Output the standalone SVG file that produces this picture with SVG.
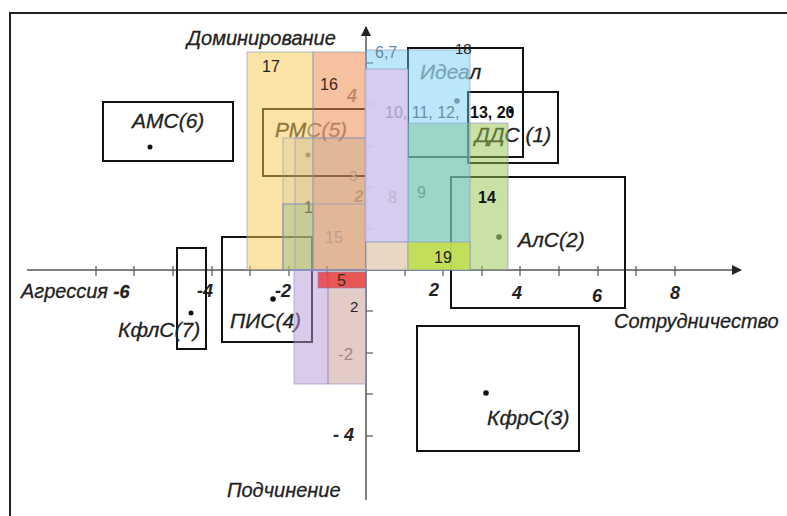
<svg xmlns="http://www.w3.org/2000/svg" width="787" height="516" viewBox="0 0 787 516">
<defs>
<marker id="arr" viewBox="0 0 10 10" refX="9" refY="5" markerWidth="10" markerHeight="10" markerUnits="userSpaceOnUse" orient="auto">
<path d="M0,0 L10,5 L0,10 Z" fill="#222"/>
</marker>
</defs>
<style>
.box{fill:none;stroke:#111;stroke-width:2}
.dot{fill:#111}
.lbl{font-family:"Liberation Sans",Arial,sans-serif;font-style:italic;font-size:21px;fill:#222;stroke:#222;stroke-width:0.3}
.ax{font-family:"Liberation Sans",Arial,sans-serif;font-style:italic;font-size:20px;fill:#222;stroke:#222;stroke-width:0.3}
.num{font-family:"Liberation Sans",Arial,sans-serif;font-style:italic;font-weight:bold;font-size:18px;fill:#222}
.rn{font-family:"Liberation Sans",Arial,sans-serif;font-size:16px;fill:#222}
.rb{font-family:"Liberation Sans",Arial,sans-serif;font-size:16px;font-weight:bold;fill:#111}
.reg{stroke:#7f8fc0;stroke-width:0.8;stroke-opacity:0.7}
.tick{stroke:#555;stroke-width:1.2}
</style>
<rect x="10" y="13" width="800" height="520" fill="#fff" stroke="#222" stroke-width="2"/>

<g id="connectors">
<line x1="27" y1="270" x2="741" y2="270" stroke="#555" stroke-width="1.5" marker-end="url(#arr)"/>
<line x1="366" y1="500" x2="366" y2="27" stroke="#555" stroke-width="1.5" marker-end="url(#arr)"/>
<g class="tick">
<line x1="96" y1="266" x2="96" y2="276"/><line x1="134" y1="266" x2="134" y2="276"/>
<line x1="173" y1="266" x2="173" y2="276"/><line x1="212" y1="266" x2="212" y2="276"/>
<line x1="250" y1="266" x2="250" y2="276"/><line x1="289" y1="266" x2="289" y2="276"/>
<line x1="327" y1="266" x2="327" y2="276"/><line x1="405" y1="266" x2="405" y2="276"/>
<line x1="443" y1="266" x2="443" y2="276"/><line x1="482" y1="266" x2="482" y2="276"/>
<line x1="520" y1="266" x2="520" y2="276"/><line x1="559" y1="266" x2="559" y2="276"/>
<line x1="598" y1="266" x2="598" y2="276"/><line x1="636" y1="266" x2="636" y2="276"/>
<line x1="675" y1="266" x2="675" y2="276"/>
<line x1="366" y1="311" x2="373" y2="311"/><line x1="366" y1="353" x2="373" y2="353"/>
<line x1="366" y1="394" x2="373" y2="394"/><line x1="366" y1="436" x2="373" y2="436"/>
<line x1="366" y1="229" x2="373" y2="229"/><line x1="366" y1="187" x2="373" y2="187"/>
<line x1="366" y1="146" x2="373" y2="146"/><line x1="366" y1="104" x2="373" y2="104"/>
<line x1="366" y1="63" x2="373" y2="63"/>
</g>
<text class="ax" x="187" y="45">Доминирование</text>
<text class="ax" x="227" y="497">Подчинение</text>
<text class="ax" x="614" y="328">Сотрудничество</text>
<text class="ax" x="21" y="298">Агрессия <tspan class="num" style="font-size:18px">-6</tspan></text>
<text class="num" x="197" y="297">-4</text>
<text class="num" x="275" y="297">-2</text>
<text class="num" x="429" y="296">2</text>
<text class="num" x="512" y="299">4</text>
<text class="num" x="592" y="302">6</text>
<text class="num" x="670" y="299">8</text>
<text class="num" x="333" y="441">- 4</text>
<text class="num" x="347" y="102" style="fill:#888">4</text>
<text class="num" x="354" y="202" style="fill:#aaa;font-size:17px">2</text>
<text class="rn" x="338" y="360" style="fill:#777;font-size:17px">-2</text>
</g>

<g id="node-ams">
<rect class="box" x="103" y="102" width="130" height="59"/>
<text class="lbl" x="132" y="128">АМС(6)</text>
<circle class="dot" cx="150" cy="147" r="2.5"/>
</g>
<g id="node-rms">
<rect class="box" x="263" y="109" width="103" height="67"/>
<text class="lbl" x="275" y="137">РМ<tspan style="fill:#777;stroke:#777">С(5)</tspan></text>
<circle class="dot" cx="308" cy="155" r="2.5" style="fill:#777"/>
</g>
<g id="node-ideal">
<rect class="box" x="408" y="48" width="115" height="109"/>
<text class="lbl" x="420" y="79"><tspan style="fill:#888;stroke:#888">Идеа</tspan>л</text>
<circle class="dot" cx="457" cy="101" r="2.8" style="fill:#777"/>
</g>
<g id="node-dds">
<rect class="box" x="468" y="92" width="90" height="71"/>
<text class="lbl" x="475" y="142">ДДС (1)</text>
<circle class="dot" cx="511" cy="111" r="2.3"/>
</g>
<g id="node-als">
<rect class="box" x="451" y="177" width="174" height="131"/>
<text class="lbl" x="518" y="247">АлС(2)</text>
<circle class="dot" cx="499" cy="237" r="2.8" style="fill:#444"/>
</g>
<g id="node-kfrs">
<rect class="box" x="417" y="326" width="162" height="125"/>
<text class="lbl" x="487" y="425">КфрС(3)</text>
<circle class="dot" cx="486" cy="393" r="2.8"/>
</g>
<g id="node-kfls">
<rect class="box" x="177" y="248" width="29" height="101"/>
<text class="lbl" x="118" y="337">КфлС(7)</text>
<circle class="dot" cx="191" cy="313" r="2.5"/>
</g>
<g id="node-pis">
<rect class="box" x="222" y="237" width="90" height="105"/>
<text class="lbl" x="230" y="328">ПИС(4)</text>
<circle class="dot" cx="273" cy="299" r="2.8"/>
</g>

<g id="region-17"><rect class="reg" x="247" y="52" width="66" height="218" fill="#f8c850" fill-opacity="0.5"/></g>
<g id="region-16"><rect class="reg" x="313" y="52" width="53" height="218" fill="#ee8e50" fill-opacity="0.55"/></g>
<g id="region-3">
<rect class="reg" x="283" y="138" width="83" height="132" fill="#a09880" fill-opacity="0.13"/>
<rect class="reg" x="295" y="138" width="71" height="132" fill="#a09880" fill-opacity="0.13"/>
</g>
<g id="region-1"><rect class="reg" x="283" y="204" width="30" height="66" fill="#90c080" fill-opacity="0.35"/></g>
<g id="region-15"><rect class="reg" x="283" y="204" width="83" height="66" fill="none"/></g>
<g id="region-9-14"><rect class="reg" x="408" y="123" width="100" height="147" fill="#94c44b" fill-opacity="0.5"/></g>
<g id="region-6-7"><rect class="reg" x="366" y="50" width="104" height="220" fill="#68caf4" fill-opacity="0.45"/></g>
<g id="region-8"><rect class="reg" x="365" y="69" width="43" height="173" fill="#d8c8ee" fill-opacity="0.88"/></g>
<g id="region-peach"><rect class="reg" x="366" y="242" width="42" height="28" fill="#f0d4b8" fill-opacity="0.85"/></g>
<g id="region-19"><rect class="reg" x="408" y="242" width="62" height="28" fill="#cde040" fill-opacity="0.8"/></g>
<g id="region-low-a"><rect class="reg" x="294" y="270" width="34" height="114" fill="#b898d8" fill-opacity="0.5"/></g>
<g id="region-2"><rect class="reg" x="328" y="270" width="38" height="114" fill="#c89890" fill-opacity="0.5"/></g>
<g id="region-5"><rect class="reg" x="318" y="272" width="48" height="16" fill="#e83838" fill-opacity="0.8"/></g>

<g id="region-labels">
<text class="rn" x="262" y="72">17</text>
<text class="rn" x="320" y="90" style="fill:#3a2a20">16</text>
<text class="rn" x="375" y="58" style="fill:#6a8aa0">6,7</text>
<text class="rn" x="455" y="54" style="font-size:15px">18</text>
<text class="rn" x="385" y="118" style="fill:#a8a0c8">10, <tspan style="fill:#6a90a8">11, 12,</tspan></text>
<text class="rb" x="470" y="118">13, 20</text>
<text class="rn" x="349" y="181" style="fill:#b8a090;font-size:15px">3</text>
<text class="rn" x="388" y="203" style="fill:#c0b4d4">8</text>
<text class="rn" x="417" y="198" style="fill:#70a898">9</text>
<text class="rb" x="478" y="203">14</text>
<text class="rn" x="304" y="213" style="fill:#807850">1</text>
<text class="rn" x="325" y="243" style="fill:#c0a088">15</text>
<text class="rn" x="434" y="263">19</text>
<text class="rn" x="337" y="286" style="fill:#331">5</text>
<text class="rn" x="350" y="312" style="font-size:15px">2</text>
</g>
</svg>
